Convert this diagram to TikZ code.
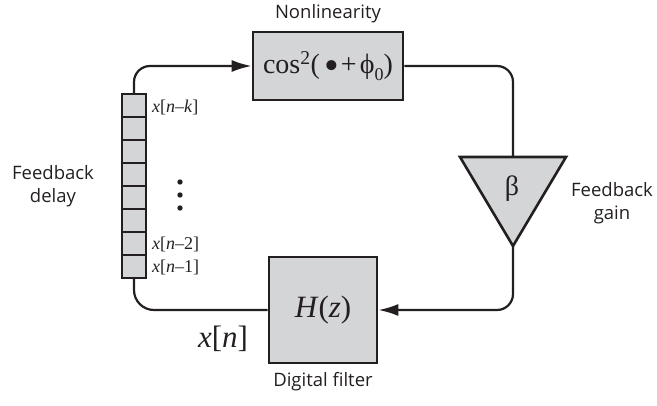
\documentclass[tikz,border=0pt]{standalone}
\usepackage{fontspec}
\setmainfont{Liberation Serif}
\newfontfamily\labfont{Open Sans}
\usetikzlibrary{arrows.meta}
\definecolor{ink}{HTML}{231F20}
\definecolor{boxgray}{HTML}{D4D5D7}
\begin{document}
\begin{tikzpicture}[x=1pt,y=-1pt,
  blk/.style={draw=ink, fill=boxgray, line width=2.6pt, inner sep=0pt},
  cell/.style={blk, line width=2.4pt, minimum width=24pt, minimum height=23pt},
  wire/.style={draw=ink, line width=2.2pt},
  arr/.style={-{Latex[length=20pt,width=12pt]}},
  lab/.style={text=ink, font=\labfont\fontsize{18.5}{23}\selectfont, align=center, inner sep=0pt},
  tap/.style={text=ink, font=\fontsize{18}{20}\selectfont, anchor=west, inner sep=0pt}]
\useasboundingbox (0,0) rectangle (657,406);
% blocks
\node[blk, minimum width=150pt, minimum height=68pt, font=\fontsize{28}{30}\selectfont, text=ink] (nl) at (328,66)
  {cos\textsuperscript{2}(\,\raisebox{-0.2em}{\scalebox{1.5}{\textbullet}}\kern0.05em+\kern0.12em ϕ\raisebox{-0.25em}{\fontsize{18}{20}\selectfont 0})};
\node[blk, minimum width=108pt, minimum height=106pt, font=\fontsize{31}{33}\selectfont, text=ink] (hz) at (323,310)
  {\textit{H}(\textit{z})};
\foreach \i in {1,...,8} {
  \node[cell] (c\i) at (134,{94+23*(\i-0.5)}) {};
}
% gain triangle
\coordinate (ttop) at (513,157);
\coordinate (tbot) at (513,246);
\path[blk, line join=miter] (460,157) -- (566,157) -- (tbot) -- cycle;
\node[text=ink, font=\fontsize{28}{30}\selectfont, inner sep=0pt] (beta) at (512,189) {β};
% wires
\draw[wire, arr, rounded corners=16pt] (c1.north) |- (nl.west);
\draw[wire, rounded corners=16pt] (nl.east) -| (ttop);
\draw[wire, arr, rounded corners=16pt] (tbot) |- (hz.east);
\draw[wire, rounded corners=20pt] (c8.south) |- (hz.west);
% labels
\node[lab] (lnl) at (328,14) {Nonlinearity};
\node[lab] (ldf) at (323,382) {Digital filter};
\node[lab] (lfd) at (53,186) {Feedback\\delay};
\node[lab] (lfg) at (612,203) {Feedback\\gain};
\node[text=ink, font=\fontsize{31}{33}\selectfont, inner sep=0pt] (xn) at (223,339) {\textit{x}[\textit{n}]};
\node[tap] (tk) at (152,107) {\textit{x}[\textit{n}–\textit{k}]};
\node[tap] (t2) at (152,244) {\textit{x}[\textit{n}–2]};
\node[tap] (t1) at (152,267) {\textit{x}[\textit{n}–1]};
\foreach \y [count=\k] in {182,195,208} {
  \fill[ink] (180,\y) circle (2.7pt) coordinate (d\k);
}
\end{tikzpicture}
\end{document}
